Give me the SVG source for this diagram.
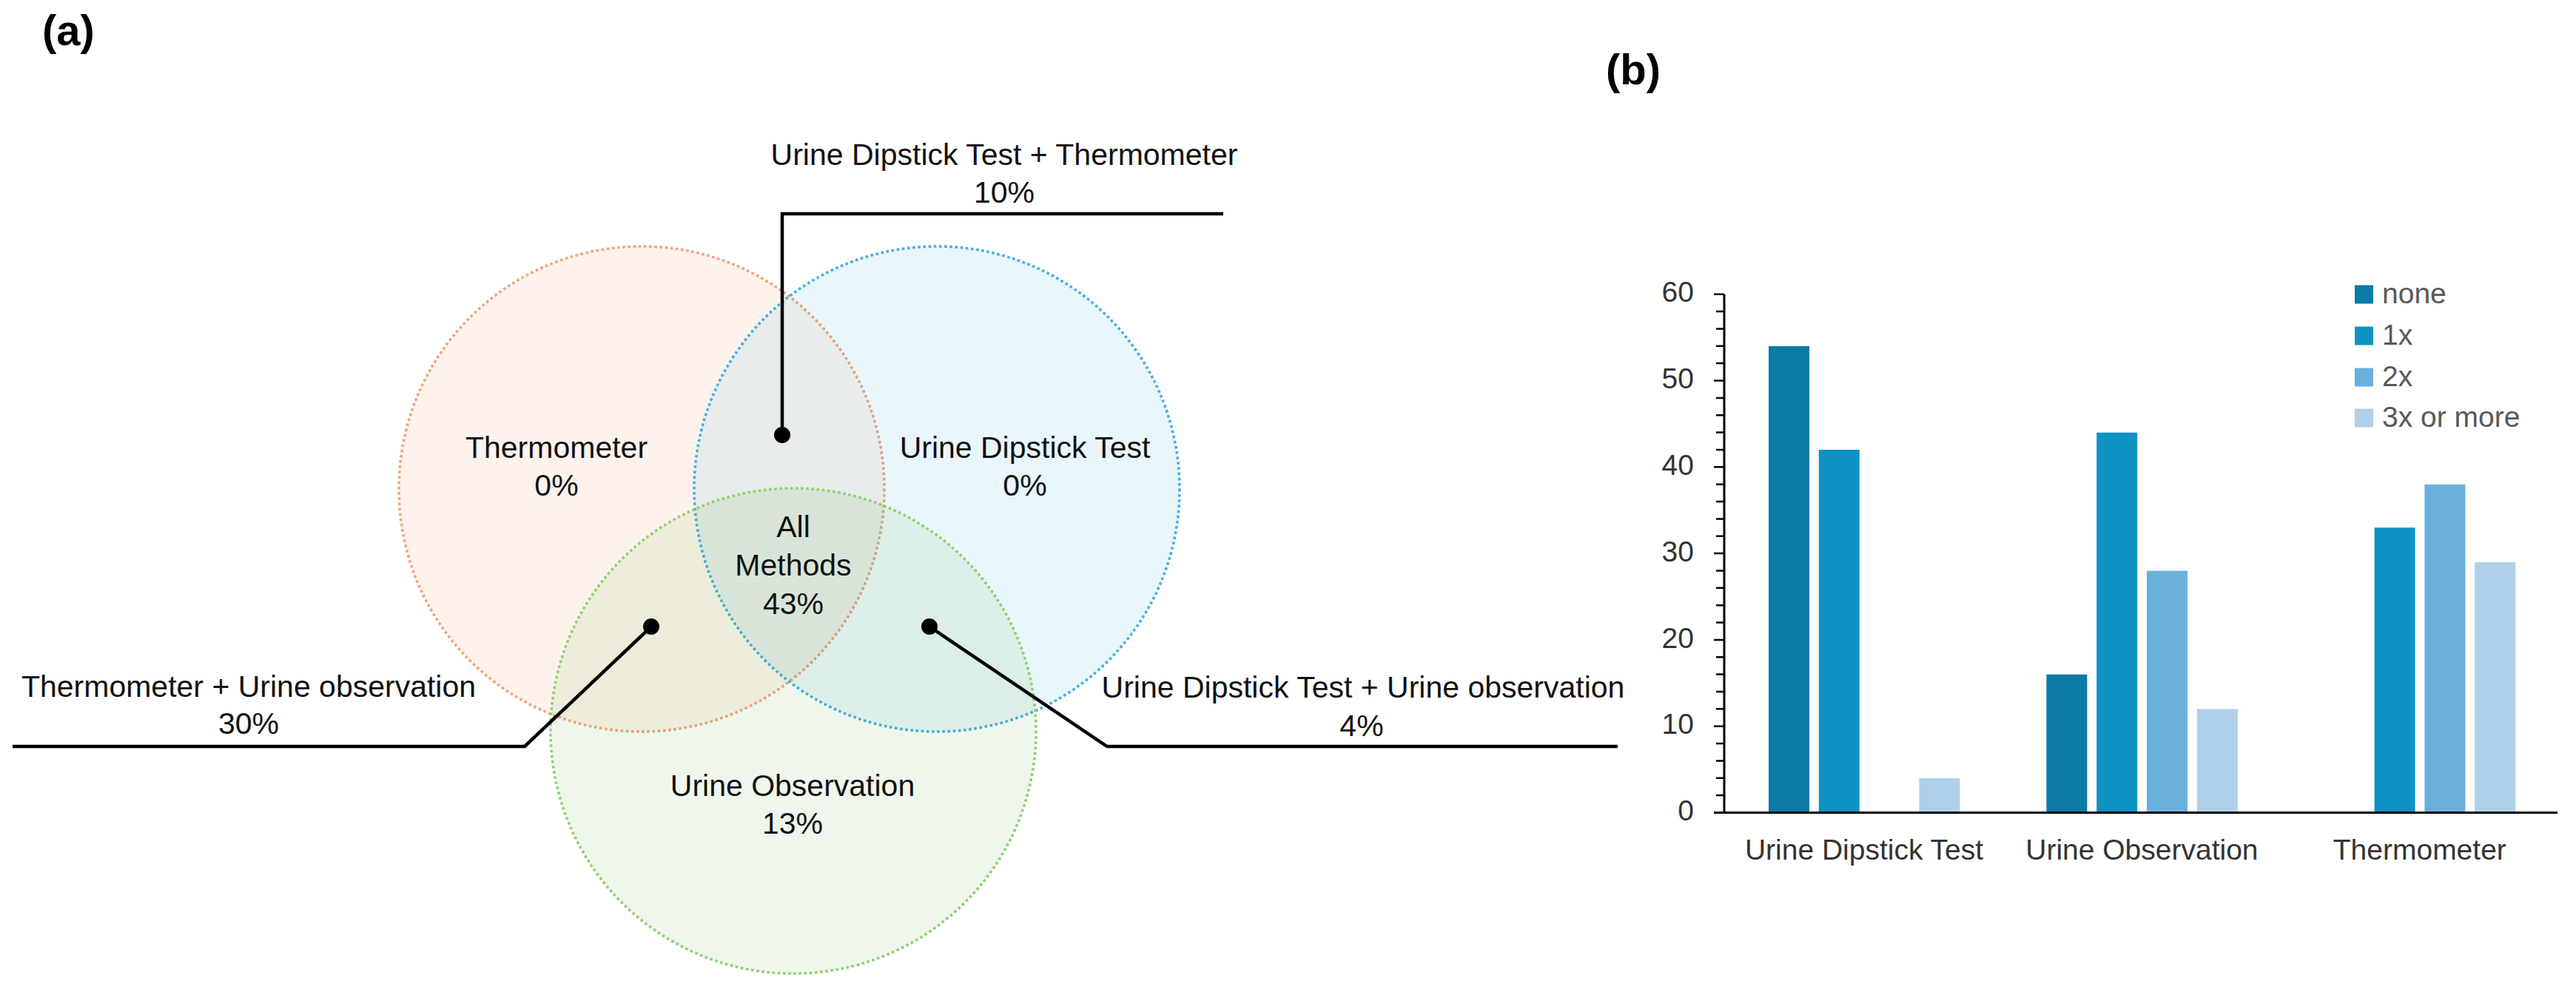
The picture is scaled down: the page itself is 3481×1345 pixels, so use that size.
<svg xmlns="http://www.w3.org/2000/svg" width="3481" height="1345" viewBox="0 0 3481 1345">
<style>
.t{font-family:"Liberation Sans",Arial,sans-serif;font-size:41px;fill:#111;text-anchor:middle}
.h{font-family:"Liberation Sans",Arial,sans-serif;font-size:58px;font-weight:bold;fill:#000}
.c{font-family:"Liberation Sans",Arial,sans-serif;font-size:39px;fill:#333}
.lg{font-family:"Liberation Sans",Arial,sans-serif;font-size:39px;fill:#595959}
.ring{stroke-width:3.6;stroke-dasharray:3.6 3.6}
.ld{fill:none;stroke:#000;stroke-width:4.5;stroke-linejoin:miter}
.dot{fill:#000}
.ax{stroke:#000;stroke-width:3;fill:none}
.tk{stroke:#000;stroke-width:2.5}
.b0{fill:#0b7ba8}
.b1{fill:#0f93c5}
.b2{fill:#6ab0dc}
.b3{fill:#b0d0ea}
</style>
<rect width="3481" height="1345" fill="#fff"/>
<text class="h" x="57" y="61">(a)</text>
<text class="h" x="2170" y="114">(b)</text>

<g id="venn">
<g id="thermometer">
<circle class="ring" cx="867" cy="661" r="328" fill="#ED7D31" fill-opacity="0.09" stroke="#F4A27E"/>
<text class="t" x="752" y="619">Thermometer</text>
<text class="t" x="752" y="670">0%</text>
</g>
<g id="dipstick">
<circle class="ring" cx="1266" cy="661" r="328" fill="#0F9ED5" fill-opacity="0.09" stroke="#45AEE6"/>
<text class="t" x="1385" y="619">Urine Dipstick Test</text>
<text class="t" x="1385" y="670">0%</text>
</g>
<g id="observation">
<circle class="ring" cx="1072" cy="988" r="328" fill="#4EA72E" fill-opacity="0.09" stroke="#8ED26D"/>
<text class="t" x="1071" y="1076">Urine Observation</text>
<text class="t" x="1071" y="1127">13%</text>
</g>
<g id="all">
<text class="t" x="1072" y="726">All</text>
<text class="t" x="1072" y="778">Methods</text>
<text class="t" x="1072" y="830">43%</text>
</g>
</g>

<g id="connectors">
<polyline class="ld" points="1653,289 1057,289 1057,588"/>
<circle class="dot" cx="1057" cy="588" r="11"/>
<polyline class="ld" points="17,1009 709,1009 880,847"/>
<circle class="dot" cx="880" cy="847" r="11"/>
<polyline class="ld" points="2186,1009 1496,1009 1256,847"/>
<circle class="dot" cx="1256" cy="847" r="11"/>
</g>

<g id="label-dip-therm">
<text class="t" x="1357" y="223">Urine Dipstick Test + Thermometer</text>
<text class="t" x="1357" y="274">10%</text>
</g>
<g id="label-therm-obs">
<text class="t" x="336" y="942">Thermometer + Urine observation</text>
<text class="t" x="336" y="992">30%</text>
</g>
<g id="label-dip-obs">
<text class="t" x="1842" y="943">Urine Dipstick Test + Urine observation</text>
<text class="t" x="1840" y="995">4%</text>
</g>

<g id="chart">
<g id="bars">
<rect class="b0" x="2390" y="467.9" width="55" height="630.7"/>
<rect class="b1" x="2457.8" y="608" width="55" height="490.6"/>
<rect class="b3" x="2593.4" y="1051.9" width="55" height="46.7"/>
<rect class="b0" x="2765.4" y="911.7" width="55" height="186.9"/>
<rect class="b1" x="2833.2" y="584.7" width="55" height="513.9"/>
<rect class="b2" x="2901" y="771.6" width="55" height="327"/>
<rect class="b3" x="2968.8" y="958.4" width="55" height="140.2"/>
<rect class="b1" x="3208.6" y="713.2" width="55" height="385.4"/>
<rect class="b2" x="3276.4" y="654.8" width="55" height="443.8"/>
<rect class="b3" x="3344.2" y="759.9" width="55" height="338.7"/>
</g>
<g id="axes">
<line class="ax" x1="2330" y1="397.7" x2="2330" y2="1098.6"/>
<line class="ax" x1="2316" y1="1098.6" x2="3456" y2="1098.6"/>
<path class="tk" d="M2316 397.7H2330M2319 421.1H2330M2319 444.4H2330M2319 467.8H2330M2319 491.1H2330M2316 514.5H2330M2319 537.9H2330M2319 561.2H2330M2319 584.6H2330M2319 607.9H2330M2316 631.3H2330M2319 654.7H2330M2319 678H2330M2319 701.4H2330M2319 724.7H2330M2316 748.1H2330M2319 771.5H2330M2319 794.8H2330M2319 818.2H2330M2319 841.5H2330M2316 864.9H2330M2319 888.3H2330M2319 911.6H2330M2319 935H2330M2319 958.3H2330M2316 981.7H2330M2319 1005.1H2330M2319 1028.4H2330M2319 1051.8H2330M2319 1075.1H2330"/>
</g>
<g id="yticks">
<text class="c" x="2289" y="408.3" text-anchor="end">60</text>
<text class="c" x="2289" y="525.1" text-anchor="end">50</text>
<text class="c" x="2289" y="641.9" text-anchor="end">40</text>
<text class="c" x="2289" y="758.7" text-anchor="end">30</text>
<text class="c" x="2289" y="875.5" text-anchor="end">20</text>
<text class="c" x="2289" y="992.3" text-anchor="end">10</text>
<text class="c" x="2289" y="1109.2" text-anchor="end">0</text>
</g>
<g id="categories">
<text class="c" x="2519" y="1162" text-anchor="middle">Urine Dipstick Test</text>
<text class="c" x="2894.4" y="1162" text-anchor="middle">Urine Observation</text>
<text class="c" x="3269.8" y="1162" text-anchor="middle">Thermometer</text>
</g>
<g id="legend">
<rect class="b0" x="3182" y="385.5" width="25" height="25"/>
<text class="lg" x="3219" y="410">none</text>
<rect class="b1" x="3182" y="441.5" width="25" height="25"/>
<text class="lg" x="3219" y="466">1x</text>
<rect class="b2" x="3182" y="497.5" width="25" height="25"/>
<text class="lg" x="3219" y="522">2x</text>
<rect class="b3" x="3182" y="552.5" width="25" height="25"/>
<text class="lg" x="3219" y="577">3x or more</text>
</g>
</g>
</svg>
